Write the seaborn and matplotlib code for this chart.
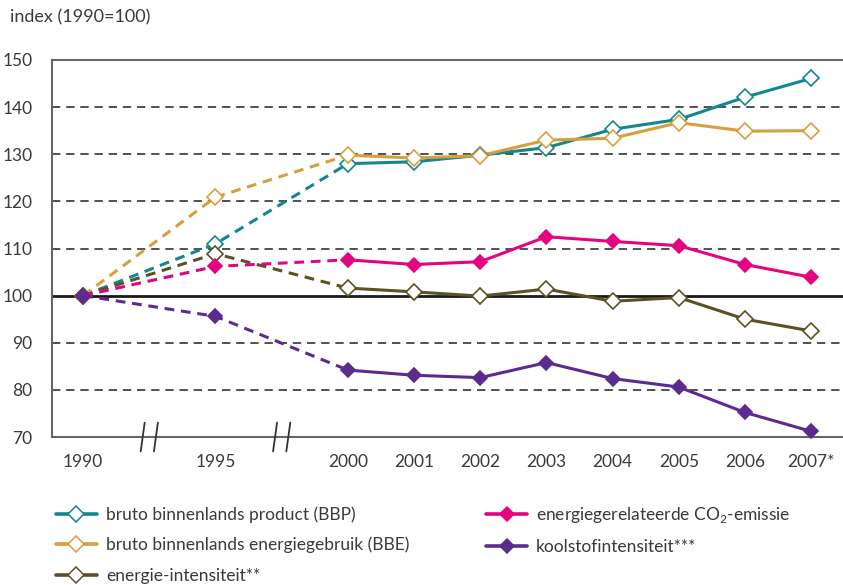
import matplotlib
matplotlib.use("Agg")
import matplotlib.pyplot as plt
import matplotlib.transforms as mtransforms
import seaborn as sns
import pandas as pd

# data
jaren = ["1990", "1995", "2000", "2001", "2002", "2003", "2004", "2005", "2006", "2007*"]
posities = [0, 2, 4, 5, 6, 7, 8, 9, 10, 11]

bbp = [100, 111.0, 128.0, 128.4, 129.8, 131.4, 135.3, 137.4, 142.1, 146.1]
bbe = [100, 120.9, 129.8, 129.2, 129.7, 133.0, 133.4, 136.7, 134.9, 135.0]
co2 = [100, 106.2, 107.6, 106.6, 107.2, 112.5, 111.5, 110.6, 106.6, 103.9]
energie_int = [100, 108.9, 101.6, 100.8, 99.9, 101.4, 98.8, 99.6, 95.0, 92.5]
koolstof = [100, 95.6, 84.2, 83.1, 82.6, 85.8, 82.4, 80.6, 75.2, 71.2]

reeksen = [
    ("bruto binnenlands product (BBP)", bbp, "#12878f", False),
    ("bruto binnenlands energiegebruik (BBE)", bbe, "#d7a03d", False),
    ("energie-intensiteit**", energie_int, "#5a5126", False),
    ("energiegerelateerde CO$_\\mathregular{2}$-emissie", co2, "#e4047f", True),
    ("koolstofintensiteit***", koolstof, "#5b2c8d", True),
]

sns.set_style("white")
plt.rcParams["font.family"] = ["Lato", "DejaVu Sans"]
plt.rcParams["mathtext.fontset"] = "custom"
plt.rcParams["mathtext.rm"] = "Lato"
tekstkleur = "#3a3a3a"

fig = plt.figure(figsize=(8.43, 5.85), dpi=100)
ax = fig.add_axes([52 / 843, 1 - 437 / 585, 1 - 52 / 843, (437 - 60) / 585])

# draw order: gold below teal like the original
volgorde = [4, 2, 3, 1, 0]
for i in volgorde:
    naam, waarden, kleur, gevuld = reeksen[i]
    df = pd.DataFrame({"x": posities, "y": waarden})
    vlak = kleur if gevuld else "white"
    # dashed part 1990-2000
    sns.lineplot(data=df.iloc[:3], x="x", y="y", ax=ax, color=kleur, lw=2.2,
                 linestyle=(0, (3.2, 2.2)), zorder=3 + i)
    # solid part 2000-2007
    sns.lineplot(data=df.iloc[2:], x="x", y="y", ax=ax, color=kleur, lw=2.2,
                 zorder=3 + i)
    ax.plot(df["x"], df["y"], linestyle="none", marker="D",
            markersize=7.6 if gevuld else 8.2,
            markerfacecolor=vlak, markeredgecolor=kleur, markeredgewidth=1.2,
            zorder=4 + i, clip_on=False)

# legend handles in original order
handles = []
for naam, waarden, kleur, gevuld in reeksen:
    h, = ax.plot([], [], color=kleur, lw=2.6, marker="D",
                 markersize=7.6 if gevuld else 8.2,
                 markerfacecolor=kleur if gevuld else "white",
                 markeredgecolor=kleur, markeredgewidth=1.1, label=naam)
    handles.append(h)
leg = ax.legend(handles=handles, ncol=2, loc="upper left",
                bbox_to_anchor=(40 / 843, 1 - 489 / 585),
                bbox_transform=fig.transFigure, frameon=False,
                fontsize=12.5, handlelength=2.4, handletextpad=0.5,
                columnspacing=4.4, labelspacing=0.82, labelcolor=tekstkleur)

ax.set_xlim(-0.47, 11.48)
ax.set_ylim(70, 150)
ax.set_yticks(range(70, 151, 10))
ax.set_xticks(posities)
ax.set_xticklabels(jaren)
ax.set_xticks([0.5, 1.5, 2.5, 3.5, 4.5, 5.5, 6.5, 7.5, 8.5, 9.5, 10.5], minor=True)
ax.tick_params(axis="x", which="major", length=0, pad=12, labelsize=12.5,
               labelcolor=tekstkleur)
ax.tick_params(axis="x", which="minor", direction="in", length=7, width=1,
               color="#555555")
ax.tick_params(axis="y", length=0, pad=14, labelsize=12.5, labelcolor=tekstkleur)
ax.set_xlabel("")
ax.set_ylabel("")

for y in range(80, 150, 10):
    if y == 100:
        ax.axhline(y, color="#1a1a1a", lw=2, zorder=2)
    else:
        ax.axhline(y, color="#333333", lw=1.2, linestyle=(0, (5, 3.5)), zorder=1)

for kant in ["left", "top", "bottom"]:
    ax.spines[kant].set_color("#666666")
    ax.spines[kant].set_linewidth(1.5)
ax.spines["right"].set_visible(False)

# axis break marks
trans = mtransforms.blended_transform_factory(ax.transData, ax.transAxes)
for p in [1, 3]:
    for d in [-0.1, 0.1]:
        ax.plot([p + d - 0.03, p + d + 0.03], [-0.038, 0.038], color="#333333",
                lw=1.3, transform=trans, clip_on=False, zorder=10)

fig.text(10 / 843, 1 - 17 / 585, "index (1990=100)", fontsize=13,
         color=tekstkleur, va="center", ha="left")

fig.savefig("out.png", dpi=100)
